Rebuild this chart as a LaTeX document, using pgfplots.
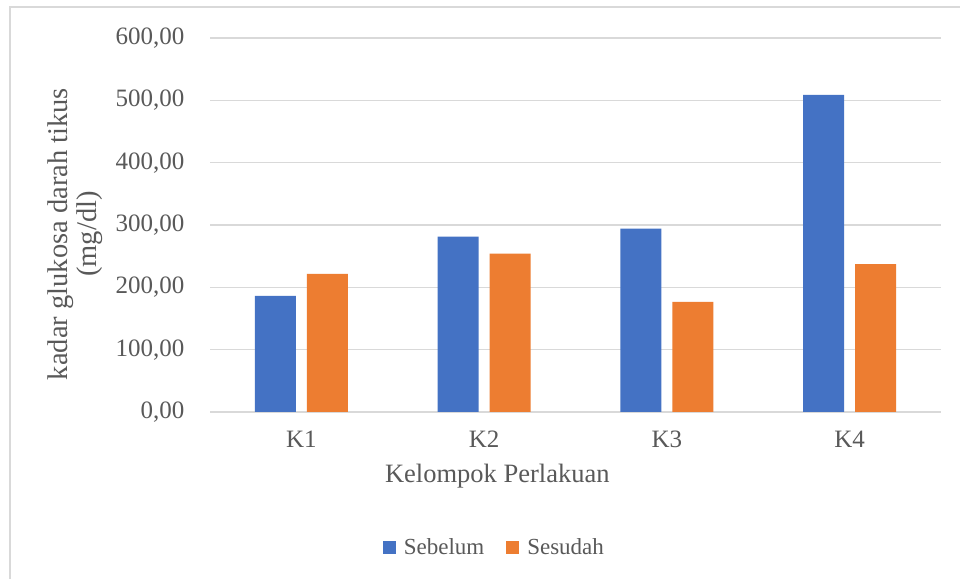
\documentclass[border=0pt]{standalone}
\usepackage{fontspec}
\setmainfont{Liberation Serif}
\usepackage{pgfplots}
\pgfplotsset{compat=1.18}
\definecolor{sebelum}{HTML}{4472C4}
\definecolor{sesudah}{HTML}{ED7D31}
\definecolor{gridgray}{HTML}{D9D9D9}
\definecolor{txtgray}{HTML}{595959}
\begin{document}
\begin{tikzpicture}
\useasboundingbox (0,0) rectangle (960bp,579bp);
\fill[white] (0,0) rectangle (960bp,579bp);
% chart area border (left and top only visible)
\draw[gridgray, line width=1.5bp] (10bp,-2bp) -- (10bp,572bp) -- (962bp,572bp);
\begin{axis}[
    at={(210bp,167bp)}, anchor=south west,
    scale only axis,
    width=731bp, height=374bp,
    ybar=11bp, bar width=41bp,
    xmin=-0.5, xmax=3.5,
    ymin=0, ymax=600,
    ytick distance=100,
    xtick={0,1,2,3},
    xticklabels={K1,K2,K3,K4},
    axis line style={draw=none},
    tick style={draw=none},
    ymajorgrids,
    grid style={gridgray, line width=1.3bp},
    /pgf/number format/.cd, fixed, fixed zerofill, precision=2, use comma, 1000 sep={}, assume math mode=true,
    /pgfplots/.cd,
    ticklabel style={font=\fontsize{25bp}{30bp}\selectfont, text=txtgray},
    xticklabel style={yshift=-11bp},
    yticklabel style={xshift=-22bp},
    xlabel={Kelompok Perlakuan},
    xlabel style={at={(axis description cs:0.393,-0.171)}, anchor=center,
        font=\fontsize{26.5bp}{30bp}\selectfont, text=txtgray},
    ylabel={kadar glukosa darah tikus\\(mg/dl)},
    ylabel style={at={(axis description cs:-0.1845,0.476)}, anchor=center, align=center,
        font=\fontsize{28.5bp}{29bp}\selectfont, text=txtgray},
    legend columns=2,
    legend style={at={(axis description cs:0.389,-0.361)}, anchor=center, draw=none,
        font=\fontsize{23bp}{27bp}\selectfont, text=txtgray,
        /tikz/every even column/.append style={column sep=20bp}},
    legend image code/.code={\fill[#1,draw=none] (0bp,-6.5bp) rectangle (13bp,6.5bp);
        \path (19bp,0bp);},
]
\addplot[fill=sebelum, draw=none] coordinates {(0,186.1) (1,281.2) (2,294.0) (3,508.6)};
\addlegendentry{Sebelum}
\addplot[fill=sesudah, draw=none] coordinates {(0,221.4) (1,253.9) (2,176.5) (3,237.4)};
\addlegendentry{Sesudah}
\end{axis}
\end{tikzpicture}
\end{document}
